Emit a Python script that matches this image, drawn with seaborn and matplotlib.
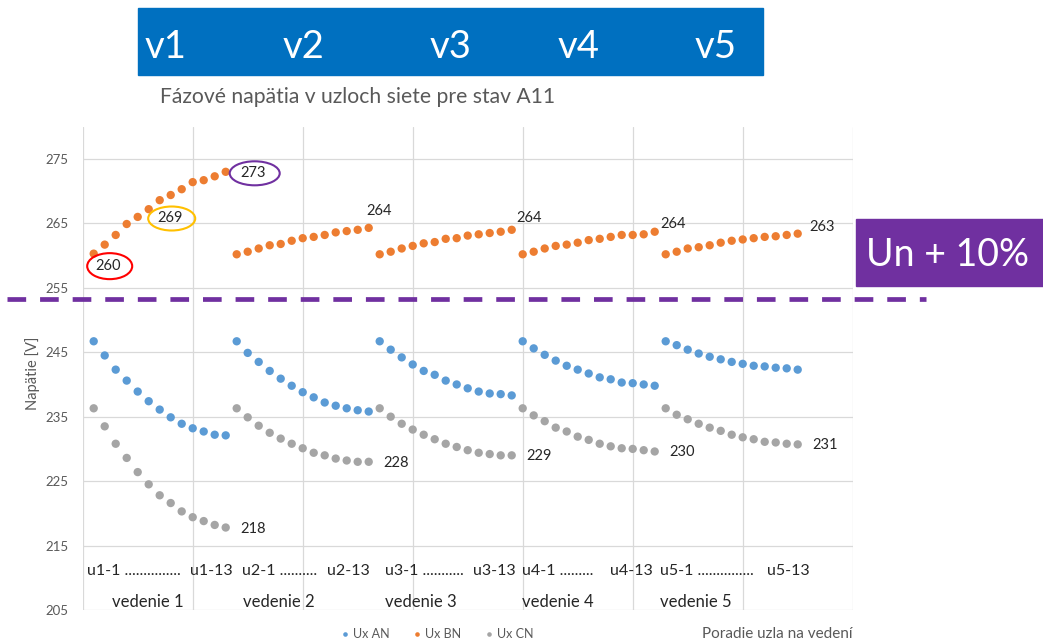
import numpy as np
import pandas as pd
import matplotlib
matplotlib.use("Agg")
import matplotlib.pyplot as plt
from matplotlib.patches import Rectangle, Ellipse
from matplotlib.lines import Line2D
from matplotlib.transforms import ScaledTranslation
import seaborn as sns

# ---- data -----------------------------------------------------------------
fazy = ["Ux AN", "Ux BN", "Ux CN"]
farby = ["#5B9BD5", "#ED7D31", "#A5A5A5"]

vedenia = ["vedenie 1", "vedenie 2", "vedenie 3", "vedenie 4", "vedenie 5"]
hlavicky = ["v1", "v2", "v3", "v4", "v5"]
uzly_od = ["u1-1 ...............", "u2-1 ..........", "u3-1 ...........", "u4-1 .........", "u5-1 ..............."]
uzly_do = ["u1-13", "u2-13", "u3-13", "u4-13", "u5-13"]

# phase voltages [V], 13 nodes per feeder, feeders 1..5 one after another
ux_an = [
    246.7, 244.5, 242.3, 240.6, 238.9, 237.4, 236.1, 234.9, 233.9, 233.2, 232.7, 232.2, 232.1,
    246.7, 244.9, 243.5, 242.1, 240.9, 239.8, 238.8, 238.0, 237.2, 236.7, 236.3, 236.0, 235.8,
    246.7, 245.4, 244.2, 243.1, 242.1, 241.5, 240.6, 240.0, 239.4, 238.9, 238.6, 238.5, 238.3,
    246.7, 245.6, 244.6, 243.7, 242.9, 242.3, 241.7, 241.1, 240.8, 240.3, 240.2, 240.0, 239.8,
    246.7, 246.1, 245.4, 244.8, 244.3, 243.9, 243.5, 243.2, 242.9, 242.8, 242.6, 242.5, 242.3,
]
ux_bn = [
    260.3, 261.7, 263.2, 264.9, 266.0, 267.2, 268.6, 269.4, 270.3, 271.4, 271.7, 272.3, 273.0,
    260.2, 260.6, 261.1, 261.6, 261.8, 262.3, 262.7, 262.9, 263.2, 263.6, 263.8, 264.0, 264.3,
    260.2, 260.6, 261.1, 261.5, 261.9, 262.1, 262.6, 262.7, 263.1, 263.3, 263.5, 263.7, 264.0,
    260.2, 260.6, 261.1, 261.5, 261.7, 262.0, 262.4, 262.6, 262.9, 263.2, 263.2, 263.3, 263.7,
    260.2, 260.6, 261.1, 261.3, 261.6, 262.0, 262.3, 262.5, 262.7, 262.9, 263.0, 263.2, 263.4,
]
ux_cn = [
    236.3, 233.5, 230.8, 228.6, 226.4, 224.5, 222.8, 221.6, 220.3, 219.4, 218.8, 218.2, 217.8,
    236.3, 234.9, 233.6, 232.5, 231.6, 230.8, 230.1, 229.4, 229.0, 228.5, 228.2, 228.0, 228.0,
    236.3, 235.0, 233.9, 233.0, 232.2, 231.5, 230.8, 230.3, 229.8, 229.4, 229.2, 229.0, 229.0,
    236.3, 235.2, 234.3, 233.3, 232.7, 231.9, 231.4, 230.8, 230.4, 230.1, 230.0, 229.8, 229.6,
    236.3, 235.3, 234.6, 233.9, 233.3, 232.8, 232.2, 231.8, 231.5, 231.1, 231.0, 230.8, 230.7,
]
y_ticks = [205, 215, 225, 235, 245, 255, 265, 275]

# ---- frame ------------------------------------------------------------------
uzol = np.arange(1, len(ux_an) + 1)
df = pd.DataFrame({
    "uzol": np.tile(uzol, 3),
    "napatie": ux_an + ux_bn + ux_cn,
    "faza": np.repeat(fazy, len(uzol)),
})

sns.set_theme(style="white")
plt.rcParams["font.family"] = ["Lato", "DejaVu Sans"]

W, H = 1043, 644
fig = plt.figure(figsize=(W / 100, H / 100), dpi=100)
ax = fig.add_axes([82.7 / W, 1 - 610 / H, 770 / W, 483.3 / H])

sns.scatterplot(data=df, x="uzol", y="napatie", hue="faza", palette=farby,
                s=36, linewidth=0, ax=ax, zorder=3)

ax.set_xlim(0, 70)
ax.set_ylim(205, 280)
ax.set_xticks(np.arange(0, 71, 10))
ax.set_xticklabels([])
ax.set_yticks(y_ticks)
ax.tick_params(axis="both", length=0)
ax.tick_params(axis="y", labelsize=9.5, labelcolor="#595959", pad=10)
ax.grid(True, color="#D9D9D9", lw=0.9)
for s in ax.spines.values():
    s.set_visible(False)
ax.set_xlabel("")
ax.set_ylabel("Napätie [V]", fontsize=10.5, color="#595959")
ax.yaxis.set_label_coords(-0.055, 0.49)

# legend below the plot
sns.move_legend(ax, loc="center", bbox_to_anchor=(437 / W, 1 - 634 / H),
                bbox_transform=fig.transFigure, ncol=3, frameon=False, title=None,
                fontsize=9, markerscale=0.55, handlelength=0.6,
                handletextpad=0.35, columnspacing=1.9)
for t in ax.get_legend().get_texts():
    t.set_color("#595959")

fig.text(853 / W, 1 - 634 / H, "Poradie uzla na vedení", ha="right", va="center",
         fontsize=11, color="#595959")

# node range and feeder names inside the plot area
od_x = [0.4, 14.5, 27.5, 39.9, 52.5]
do_x = [13.6, 26.1, 39.4, 51.8, 66.1]
ved_x = [5.95, 17.85, 30.75, 43.2, 55.75]
for i in range(5):
    ax.text(od_x[i], 211.1, uzly_od[i], ha="left", va="center", fontsize=11.5, color="#262626")
    ax.text(do_x[i], 211.1, uzly_do[i], ha="right", va="center", fontsize=11.5, color="#262626")
    ax.text(ved_x[i], 206.2, vedenia[i], ha="center", va="center", fontsize=12, color="#262626")

# value labels
def stitok(x, y, dx, dy, elipsa=None, w=0, h=0):
    ax.annotate(f"{y:.0f}", (x, y), xytext=(dx * 0.72, dy * 0.72), textcoords="offset points",
                ha="center", va="center", fontsize=10.5, color="#262626", zorder=5)
    if elipsa:
        tr = fig.dpi_scale_trans + ScaledTranslation(x, y, ax.transData)
        ax.add_artist(Ellipse(((dx + 2) / 100, (dy - 0.5) / 100), w / 100, h / 100,
                              transform=tr, fill=False, ec=elipsa, lw=1.5, clip_on=False, zorder=5))

stitok(uzol[0], ux_bn[0], 14, -12, "#FF0000", 45, 26)
stitok(uzol[7], ux_bn[7], -1, -23, "#FFC000", 47, 24)
stitok(uzol[12], ux_bn[12], 27, -1, "#7030A0", 50, 24)
bn_offsets = [(10, 17), (17, 12), (18, 8), (24, 7)]
for k, (dx, dy) in zip(range(1, 5), bn_offsets):
    j = 13 * k + 12
    stitok(uzol[j], ux_bn[j], dx, dy)
for k in range(5):
    j = 13 * k + 12
    stitok(uzol[j], ux_cn[j], 27, -1)

# header band with feeder marks
fig.add_artist(Rectangle((138 / W, 1 - 75 / H), 625 / W, 67 / H, transform=fig.transFigure,
                         color="#0070C0", zorder=1))
for xp, t in zip([145, 283, 430, 558, 695], hlavicky):
    fig.text(xp / W, 1 - 58 / H, t, ha="left", va="baseline", fontsize=27.5, color="white")

fig.text(160 / W, 1 - 103 / H, "Fázové napätia v uzloch siete pre stav A11", ha="left",
         va="baseline", fontsize=15.2, color="#595959")

# Un + 10 % limit
fig.add_artist(Line2D([7 / W, 926 / W], [1 - 299 / H] * 2, transform=fig.transFigure,
                      color="#7030A0", lw=3.4, dashes=(3.95, 2.95), zorder=10))
fig.add_artist(Rectangle((856 / W, 1 - 285.7 / H), 187 / W, 66.7 / H,
                         transform=fig.transFigure, color="#7030A0", zorder=1))
fig.text(866 / W, 1 - 266 / H, "Un + 10%", ha="left", va="baseline", fontsize=27, color="white")

fig.savefig("out.png", dpi=100)
